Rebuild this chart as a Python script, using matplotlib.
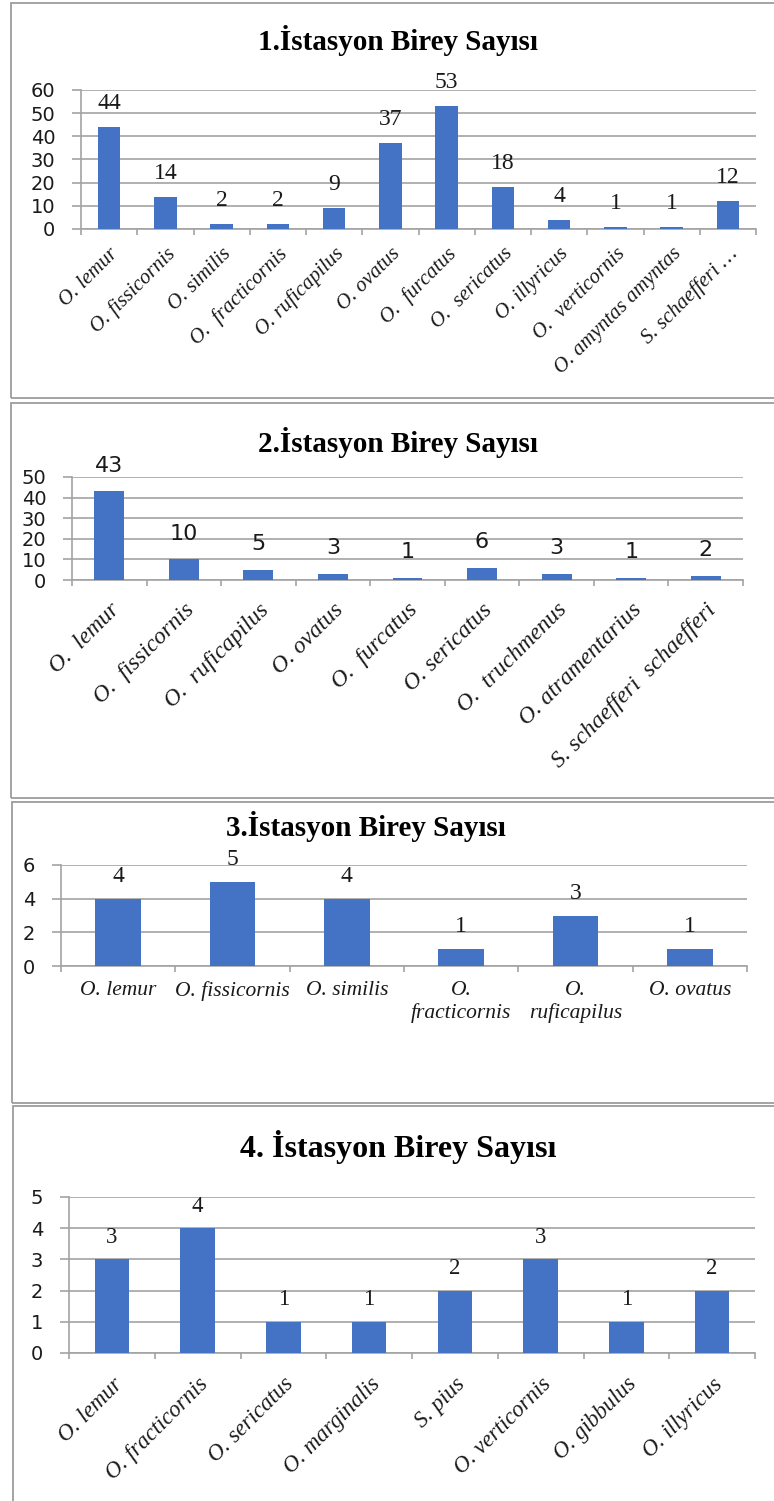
import matplotlib
matplotlib.use('Agg')
import matplotlib.pyplot as plt
from matplotlib.patches import Rectangle

W, H = 774, 1501

# individual counts per station
st1_species = ['O. lemur', 'O. fissicornis', 'O. similis', 'O.  fracticornis', 'O. ruficapilus',
               'O. ovatus', 'O.  furcatus', 'O.  sericatus', 'O. illyricus', 'O.  verticornis',
               'O. amyntas amyntas', 'S. schaefferi …']
st1_counts = [44, 14, 2, 2, 9, 37, 53, 18, 4, 1, 1, 12]

st2_species = ['O.  lemur', 'O.  fissicornis', 'O.  ruficapilus', 'O. ovatus', 'O.  furcatus',
               'O. sericatus', 'O.  truchmenus', 'O. atramentarius', 'S. schaefferi  schaefferi']
st2_counts = [43, 10, 5, 3, 1, 6, 3, 1, 2]

st3_species = ['O. lemur', 'O. fissicornis', 'O. similis', 'O.\nfracticornis', 'O.\nruficapilus',
               'O. ovatus']
st3_counts = [4, 5, 4, 1, 3, 1]

st4_species = ['O. lemur', 'O. fracticornis', 'O. sericatus', 'O. marginalis', 'S. pius',
               'O. verticornis', 'O. gibbulus', 'O. illyricus']
st4_counts = [3, 4, 1, 1, 2, 3, 1, 2]

titles = ['1.İstasyon Birey Sayısı', '2.İstasyon Birey Sayısı',
          '3.İstasyon Birey Sayısı', '4. İstasyon Birey Sayısı']

BAR = '#4472C4'
GRID = '#A3A3A3'
FRAME = '#9C9C9C'
SERIF = 'Liberation Serif'
SANS = 'DejaVu Sans'

fig = plt.figure(figsize=(W / 100, H / 100), dpi=100)


def px_axes(left, top, right, bottom):
    return fig.add_axes([left / W, 1 - bottom / H, (right - left) / W, (bottom - top) / H])


def frame(left, top, right, bottom):
    fig.patches.append(Rectangle((left / W, 1 - bottom / H), (right - left) / W, (bottom - top) / H,
                                 transform=fig.transFigure, fill=False, edgecolor=FRAME, linewidth=1.3))


def station(ax, species, counts, ymax, ystep, lab_family, lab_size, lab_gap,
            rot, xsize, xpad):
    n = len(species)
    x = list(range(n))
    ax.bar(x, counts, width=0.4, color=BAR, zorder=3)
    for i, v in zip(x, counts):
        ax.annotate(str(v), (i, v), xytext=(0, lab_gap), textcoords='offset points',
                    ha='center', va='baseline', family=lab_family, size=lab_size, color='#1a1a1a')
    ax.set_xlim(-0.5, n - 0.5)
    ax.set_ylim(0, ymax)
    ax.set_yticks(range(0, ymax + 1, ystep))
    ax.grid(axis='y', color=GRID, linewidth=1.2, zorder=0)
    for s in ['top', 'right']:
        ax.spines[s].set_visible(False)
    for s in ['left', 'bottom']:
        ax.spines[s].set_color(GRID)
        ax.spines[s].set_linewidth(1.2)
    ax.tick_params(axis='y', length=6.5, width=1.2, color=GRID, pad=12, labelsize=14,
                   labelcolor='#1a1a1a')
    for t in ax.get_yticklabels():
        t.set_family(SANS)
    ax.set_xticks([i - 0.5 for i in range(n + 1)], minor=True)
    ax.tick_params(axis='x', which='minor', length=4.5, width=1.2, color=GRID)
    ax.set_xticks(x)
    ax.tick_params(axis='x', which='major', length=0, pad=xpad, labelcolor='#1a1a1a')
    if rot:
        ax.set_xticklabels(species, rotation=45, ha='right', va='top', rotation_mode='anchor',
                           family=SERIF, style='italic', size=xsize)
    else:
        ax.set_xticklabels(species, ha='center', va='top', linespacing=1.2,
                           family=SERIF, style='italic', size=xsize)


# panel frames
frame(11, 3, 790, 398)
frame(11, 403, 790, 798)
frame(12, 802, 790, 1103)
frame(13, 1106, 790, 1520)

ax1 = px_axes(81, 90, 756, 229)
station(ax1, st1_species, st1_counts, 60, 10, SERIF, 17, 13, True, 15, 11)
fig.text(398 / W, 1 - 40 / H, titles[0], ha='center', va='center',
         family=SERIF, weight='bold', size=21)

ax2 = px_axes(72, 477, 743, 580)
station(ax2, st2_species, st2_counts, 50, 10, SANS, 16, 14, True, 17, 14)
fig.text(398 / W, 1 - 442 / H, titles[1], ha='center', va='center',
         family=SERIF, weight='bold', size=21)

ax3 = px_axes(61, 865, 747, 966)
station(ax3, st3_species, st3_counts, 6, 2, SERIF, 17, 12, False, 15.5, 11)
fig.text(366 / W, 1 - 827 / H, titles[2], ha='center', va='center',
         family=SERIF, weight='bold', size=21)

ax4 = px_axes(69, 1197, 755, 1353)
station(ax4, st4_species, st4_counts, 5, 1, SERIF, 16.5, 12, True, 16.5, 15)
fig.text(398 / W, 1 - 1147 / H, titles[3], ha='center', va='center',
         family=SERIF, weight='bold', size=23)

fig.savefig('out.png', dpi=100)
